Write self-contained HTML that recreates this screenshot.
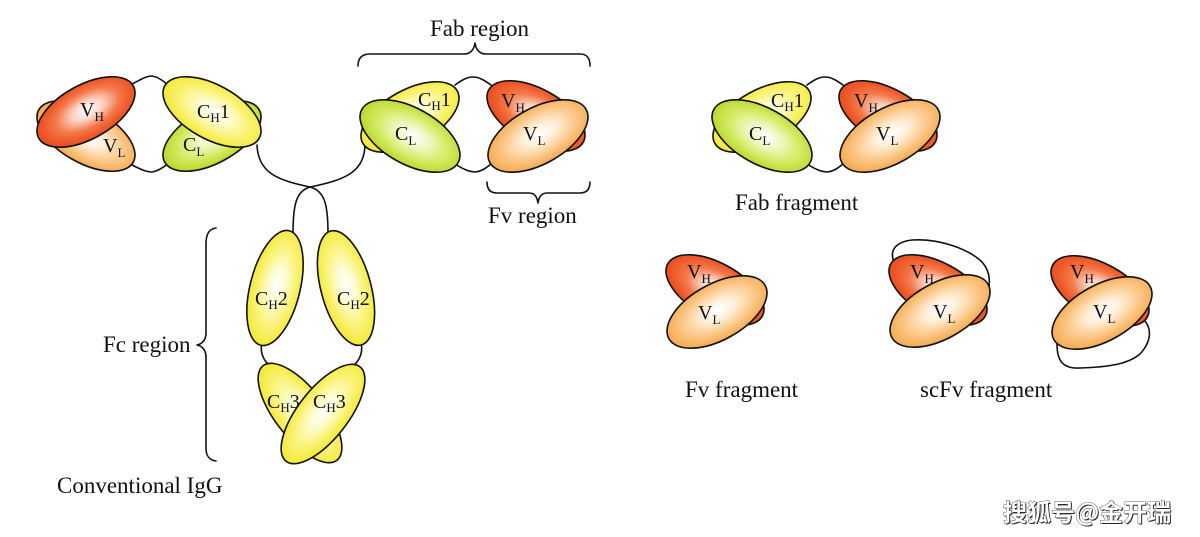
<!DOCTYPE html>
<html>
<head>
<meta charset="utf-8">
<style>
  html,body{margin:0;padding:0;background:#ffffff;}
  svg{display:block;}
  .lbl{font-family:"Liberation Serif",serif;font-size:20px;fill:#111;}
  .cap{font-family:"Liberation Serif",serif;font-size:23px;fill:#111;}
  .ln{fill:none;stroke:#111;stroke-width:1.6;stroke-linecap:round;stroke-linejoin:round;}
  ellipse{stroke:#111;stroke-width:1.6;}
</style>
</head>
<body>
<svg width="1200" height="537" viewBox="0 0 1200 537" xmlns="http://www.w3.org/2000/svg">
  <defs>
    <radialGradient id="gR" cx="52%" cy="48%" r="52%">
      <stop offset="0" stop-color="#ffffff"/>
      <stop offset="0.3" stop-color="#fbd2c2"/>
      <stop offset="0.62" stop-color="#f4784a"/>
      <stop offset="0.86" stop-color="#ee5a2a"/>
      <stop offset="1" stop-color="#e94e1e"/>
    </radialGradient>
    <radialGradient id="gO" cx="52%" cy="48%" r="52%">
      <stop offset="0" stop-color="#ffffff"/>
      <stop offset="0.3" stop-color="#fff0dc"/>
      <stop offset="0.68" stop-color="#fbc98a"/>
      <stop offset="1" stop-color="#f5aa52"/>
    </radialGradient>
    <radialGradient id="gY" cx="52%" cy="48%" r="52%">
      <stop offset="0" stop-color="#ffffff"/>
      <stop offset="0.3" stop-color="#fdfcd2"/>
      <stop offset="0.66" stop-color="#faf37a"/>
      <stop offset="1" stop-color="#f2e938"/>
    </radialGradient>
    <radialGradient id="gG" cx="52%" cy="48%" r="52%">
      <stop offset="0" stop-color="#ffffff"/>
      <stop offset="0.3" stop-color="#f0f8c8"/>
      <stop offset="0.66" stop-color="#d6ec68"/>
      <stop offset="1" stop-color="#bcd82c"/>
    </radialGradient>
  </defs>

  <rect x="0" y="0" width="1200" height="537" fill="#ffffff"/>

  <!-- ================= IgG ================= -->
  <!-- hinge lines -->
  <path class="ln" d="M257,145 C258,172 276,180 310,187 C325,191 328,205 328,234"/>
  <path class="ln" d="M365,144 C365,172 345,180 310,187 C296,191 293,205 293,234"/>

  <!-- left Fab connectors -->
  <path class="ln" d="M132,84 C140,80 146,76 152,76 C158,77 162,80 168,85"/>
  <path class="ln" d="M132,165 C140,169 146,172 152,172 C158,171 162,168 168,164"/>

  <!-- left Fab -->
  <ellipse cx="86" cy="136" rx="54" ry="27" transform="rotate(29 86 136)" fill="url(#gO)"/>
  <ellipse cx="86" cy="112" rx="54" ry="27" transform="rotate(-29 86 112)" fill="url(#gR)"/>
  <ellipse cx="212" cy="136" rx="54" ry="27" transform="rotate(-29 212 136)" fill="url(#gG)"/>
  <ellipse cx="212" cy="112" rx="54" ry="27" transform="rotate(29 212 112)" fill="url(#gY)"/>
  <text class="lbl" x="80" y="116">V<tspan font-size="13" dy="5">H</tspan></text>
  <text class="lbl" x="103" y="152">V<tspan font-size="13" dy="5">L</tspan></text>
  <text class="lbl" x="197" y="118">C<tspan font-size="13" dy="4">H</tspan><tspan dy="-4">1</tspan></text>
  <text class="lbl" x="183" y="151">C<tspan font-size="13" dy="5">L</tspan></text>

  <!-- right Fab (IgG) + Fab fragment -->
  <g id="fab">
    <path class="ln" d="M455,85 C462,80 467,77 473,77 C479,77 484,80 491,85"/>
    <path class="ln" d="M455,164 C463,169 469,172 476,172 C482,171 486,168 491,164"/>
    <ellipse cx="410" cy="117" rx="54" ry="27" transform="rotate(-29 410 117)" fill="url(#gY)"/>
    <ellipse cx="410" cy="136" rx="55" ry="28" transform="rotate(29 410 136)" fill="url(#gG)"/>
    <ellipse cx="536" cy="116" rx="54" ry="27" transform="rotate(29 536 116)" fill="url(#gR)"/>
    <ellipse cx="538" cy="136" rx="55" ry="28" transform="rotate(-29 538 136)" fill="url(#gO)"/>
    <text class="lbl" x="418" y="106">C<tspan font-size="13" dy="4">H</tspan><tspan dy="-4">1</tspan></text>
    <text class="lbl" x="395" y="140">C<tspan font-size="13" dy="5">L</tspan></text>
    <text class="lbl" x="501" y="107">V<tspan font-size="13" dy="5">H</tspan></text>
    <text class="lbl" x="523" y="140">V<tspan font-size="13" dy="5">L</tspan></text>
  </g>
  <g transform="translate(352,0)">
    <path class="ln" d="M455,85 C462,80 467,77 473,77 C479,77 484,80 491,85"/>
    <path class="ln" d="M455,164 C463,169 469,172 476,172 C482,171 486,168 491,164"/>
    <ellipse cx="410" cy="117" rx="54" ry="27" transform="rotate(-29 410 117)" fill="url(#gY)"/>
    <ellipse cx="410" cy="136" rx="55" ry="28" transform="rotate(29 410 136)" fill="url(#gG)"/>
    <ellipse cx="536" cy="116" rx="54" ry="27" transform="rotate(29 536 116)" fill="url(#gR)"/>
    <ellipse cx="538" cy="136" rx="55" ry="28" transform="rotate(-29 538 136)" fill="url(#gO)"/>
    <text class="lbl" x="419" y="107">C<tspan font-size="13" dy="4">H</tspan><tspan dy="-4">1</tspan></text>
    <text class="lbl" x="397" y="140">C<tspan font-size="13" dy="5">L</tspan></text>
    <text class="lbl" x="502" y="107">V<tspan font-size="13" dy="5">H</tspan></text>
    <text class="lbl" x="524" y="140">V<tspan font-size="13" dy="5">L</tspan></text>
  </g>

  <!-- braces -->
  <path class="ln" d="M358,66 C358,58 362,54 370,54 L464,54 C470,54 474,50 475,43 C476,50 480,54 486,54 L580,54 C587,54 590,58 590,66"/>
  <path class="ln" d="M487,182 C487,189 490,193 497,193 L529,193 C535,193 537,197 538,203 C539,197 541,193 547,193 L580,193 C587,193 590,189 590,182"/>
  <path class="ln" d="M216,228 C209,229 206,234 206,244 L206,333 C206,340 202,344 197,345 C202,346 206,350 206,357 L206,448 C206,456 209,460 216,461"/>

  <text class="cap" x="430" y="36">Fab region</text>
  <text class="cap" x="488" y="223">Fv region</text>
  <text class="cap" x="103" y="352">Fc region</text>
  <text class="cap" x="57" y="493">Conventional IgG</text>

  <!-- Fc -->
  <path class="ln" d="M263,340 C259,350 262,360 272,368"/>
  <path class="ln" d="M360,340 C364,350 361,360 351,368"/>
  <ellipse cx="275" cy="288" rx="25" ry="59" transform="rotate(14 275 288)" fill="url(#gY)"/>
  <ellipse cx="346" cy="288" rx="25" ry="59" transform="rotate(-15 346 288)" fill="url(#gY)"/>
  <ellipse cx="300" cy="413" rx="60" ry="25" transform="rotate(52 300 413)" fill="url(#gY)"/>
  <ellipse cx="323" cy="414" rx="60" ry="25" transform="rotate(-52 323 414)" fill="url(#gY)"/>
  <text class="lbl" x="255" y="305">C<tspan font-size="13" dy="4">H</tspan><tspan dy="-4">2</tspan></text>
  <text class="lbl" x="337" y="305">C<tspan font-size="13" dy="4">H</tspan><tspan dy="-4">2</tspan></text>
  <text class="lbl" x="267" y="408">C<tspan font-size="13" dy="4">H</tspan><tspan dy="-4">3</tspan></text>
  <text class="lbl" x="313" y="408">C<tspan font-size="13" dy="4">H</tspan><tspan dy="-4">3</tspan></text>

  <text class="cap" x="735" y="210">Fab fragment</text>

  <!-- ================= Fv fragment ================= -->
  <ellipse cx="715" cy="290" rx="54" ry="27" transform="rotate(29 715 290)" fill="url(#gR)"/>
  <ellipse cx="717" cy="312" rx="55" ry="28" transform="rotate(-29 717 312)" fill="url(#gO)"/>
  <text class="lbl" x="687" y="278">V<tspan font-size="13" dy="5">H</tspan></text>
  <text class="lbl" x="698" y="319">V<tspan font-size="13" dy="5">L</tspan></text>
  <text class="cap" x="685" y="397">Fv fragment</text>

  <!-- ================= scFv 1 ================= -->
  <path class="ln" d="M894,262 C889,250 896,242 912,240 C940,238 970,250 982,262 C989,270 990,278 989,287"/>
  <ellipse cx="938" cy="290" rx="54" ry="27" transform="rotate(29 938 290)" fill="url(#gR)"/>
  <ellipse cx="940" cy="311" rx="55" ry="28" transform="rotate(-29 940 311)" fill="url(#gO)"/>
  <text class="lbl" x="910" y="278">V<tspan font-size="13" dy="5">H</tspan></text>
  <text class="lbl" x="933" y="318">V<tspan font-size="13" dy="5">L</tspan></text>

  <!-- ================= scFv 2 ================= -->
  <path class="ln" d="M1145,321 C1152,330 1151,342 1140,354 C1128,364 1110,367 1080,368 C1062,369 1057,360 1057,344"/>
  <ellipse cx="1100" cy="291" rx="54" ry="27" transform="rotate(29 1100 291)" fill="url(#gR)"/>
  <ellipse cx="1102" cy="313" rx="55" ry="28" transform="rotate(-29 1102 313)" fill="url(#gO)"/>
  <text class="lbl" x="1070" y="278">V<tspan font-size="13" dy="5">H</tspan></text>
  <text class="lbl" x="1093" y="318">V<tspan font-size="13" dy="5">L</tspan></text>

  <text class="cap" x="920" y="397">scFv fragment</text>

  <!-- watermark -->
  <text x="1004" y="522" font-family="'WenQuanYi Zen Hei','Noto Sans CJK SC',sans-serif" font-size="24" font-weight="bold" fill="#222">搜狐号@金开瑞</text>
  <text x="1003" y="521" font-family="'WenQuanYi Zen Hei','Noto Sans CJK SC',sans-serif" font-size="24" font-weight="bold" fill="#ffffff" stroke="#333" stroke-width="0.8" paint-order="stroke">搜狐号@金开瑞</text>
</svg>
</body>
</html>
